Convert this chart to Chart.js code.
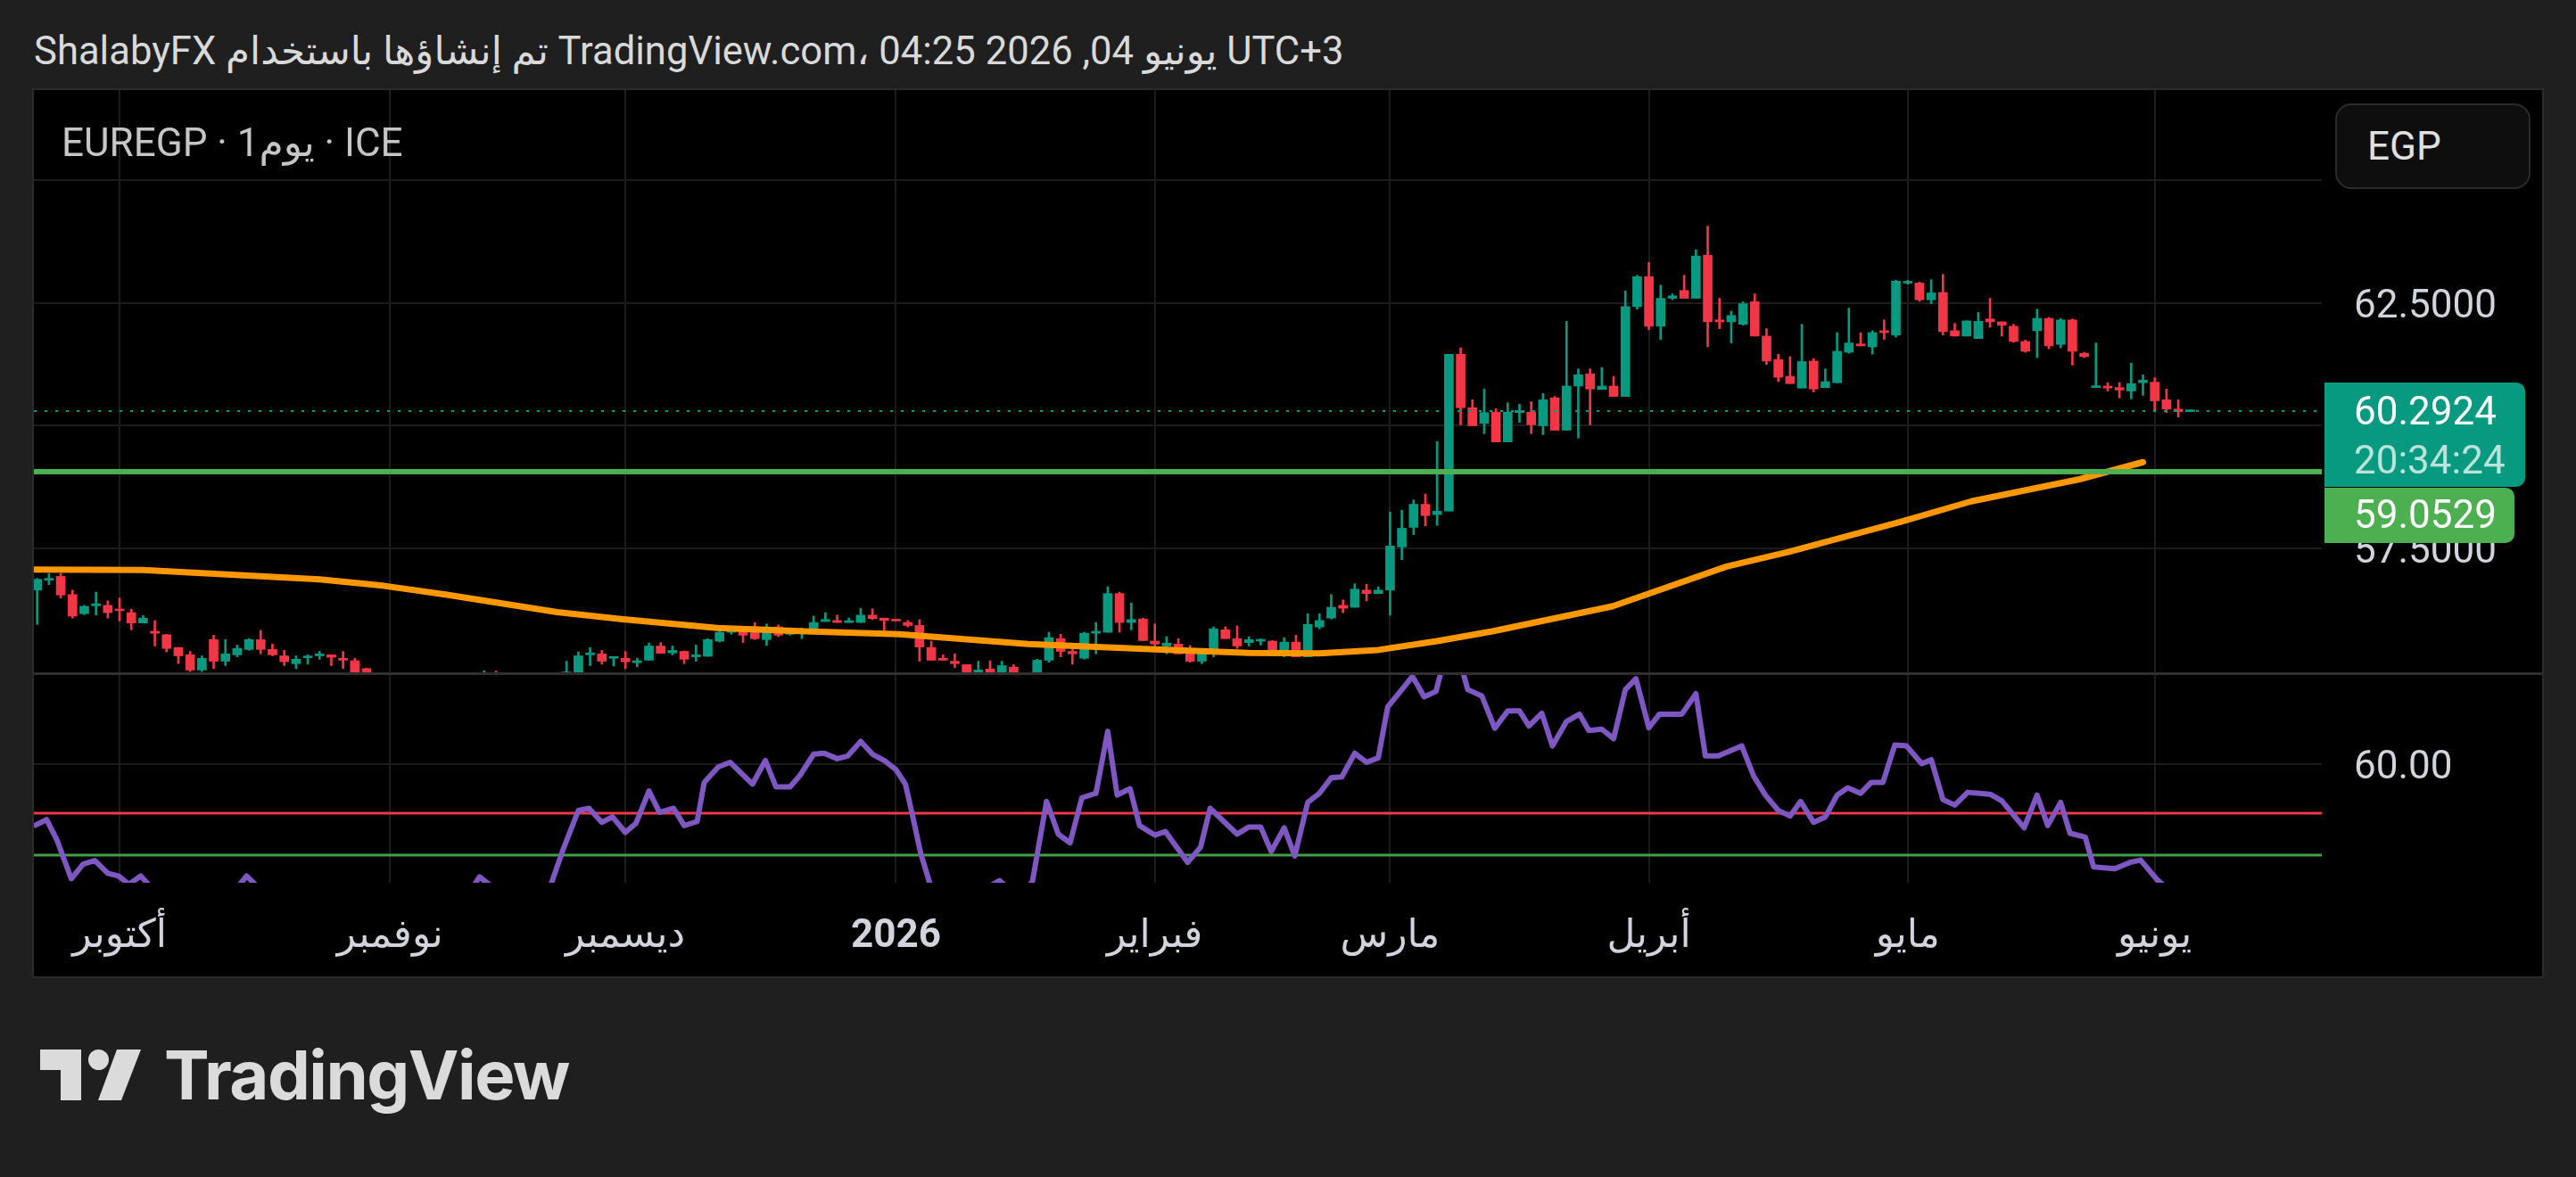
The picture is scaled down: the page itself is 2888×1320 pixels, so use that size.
<!DOCTYPE html>
<html><head><meta charset="utf-8">
<script src="https://cdn.jsdelivr.net/npm/chart.js@4.4.1/dist/chart.umd.min.js"></script>
<style>
html,body{margin:0;padding:0;background:#1f1f1f;width:2888px;height:1320px;overflow:hidden;font-family:Roboto,'DejaVu Sans',sans-serif;}
#title{position:absolute;left:38px;top:36px;font-size:43.6px;line-height:44px;color:#d9d9d9;white-space:nowrap;}
#panel{position:absolute;left:36px;top:99px;width:2812px;height:994px;background:#000;border:2px solid #2b2b2b;}
#price{position:absolute;left:38px;top:101px;}
#osc{position:absolute;left:38px;top:757px;}
#sep{position:absolute;left:38px;top:754px;width:2812px;height:3px;background:#2f2f2f;}
#sym{position:absolute;left:69px;top:138px;font-size:44px;line-height:44px;color:#c6c6c6;white-space:nowrap;}
#cur{position:absolute;left:2618px;top:116px;width:219px;height:96px;box-sizing:border-box;border:2px solid #2a2a2a;border-radius:18px;background:#0e0e0e;color:#e0e0e0;font-size:44px;display:flex;align-items:center;padding-left:34px;}
#logo{position:absolute;left:45px;top:1177px;}
#brand{position:absolute;left:184px;top:1167px;font-family:Inter,Lato,sans-serif;font-weight:700;font-size:76px;line-height:76px;color:#dbdbdb;letter-spacing:-1.5px;white-space:nowrap;}
</style></head>
<body>
<div id="title">ShalabyFX <span dir="rtl">تم إنشاؤها باستخدام</span> TradingView.com<span dir="ltr">،</span> <span dir="ltr">04:25 2026 ,04</span> <span dir="rtl">يونيو</span> UTC+3</div>
<div id="panel"></div>
<canvas id="price" width="2812" height="654"></canvas>
<canvas id="osc" width="2812" height="338"></canvas>
<div id="sep"></div>
<div id="sym">EUREGP · 1يوم · ICE</div>
<div id="cur">EGP</div>
<svg id="logo" width="114" height="57" viewBox="0 0 114 57"><path d="M0 0H46V57H23V23H0Z" fill="#dbdbdb"/><circle cx="65.5" cy="11.5" r="11.5" fill="#dbdbdb"/><path d="M86 0H113L91 57H65Z" fill="#dbdbdb"/></svg>
<div id="brand">TradingView</div>
<script>
// ---------- data ----------
const monthIdx = [7,30,50,73,95,115,137,159,180];
const monthLabels = ['أكتوبر','نوفمبر','ديسمبر','2026','فبراير','مارس','أبريل','مايو','يونيو'];
const priceTicks = [57.5,60,62.5,65];
const oscTicks = [60];
const supportLevel = 59.0529;
const oscUpper = 54.6;
const oscLower = 50;
const countdown = '20:34:24';

const open = [56.64,56.84,56.92,56.55,56.16,56.32,56.33,56.25,56.18,55.97,
55.80,55.73,55.47,55.32,55.01,55.63,55.19,55.32,55.43,55.63,
55.43,55.30,55.14,55.26,55.30,55.32,55.25,55.20,55.04,54.85,
54.68,54.52,54.60,54.42,54.30,54.38,54.52,54.70,54.62,54.85,
54.66,54.55,54.45,54.58,54.72,54.85,54.97,55.32,55.34,55.25,
55.25,55.16,55.21,55.50,55.36,55.39,55.28,55.29,55.60,55.78,
55.82,55.89,55.63,55.89,55.74,55.76,55.78,56.00,56.02,55.98,
55.98,56.13,56.07,56.04,55.98,55.92,55.47,55.25,55.19,55.12,
54.97,55.03,54.92,55.07,54.90,54.85,55.21,55.65,55.39,55.25,
55.76,55.78,56.57,55.98,56.05,55.60,55.50,55.54,55.38,55.19,
55.34,55.83,55.65,55.57,55.60,55.60,55.32,55.58,55.28,55.89,
56.07,56.33,56.29,56.64,56.57,56.64,57.52,57.92,58.39,58.18,
58.25,61.45,60.36,60.04,60.27,59.66,60.26,60.27,59.99,60.56,
59.90,60.80,61.05,60.73,60.80,60.59,62.42,63.03,62.02,62.59,
62.75,62.59,63.47,62.15,62.11,62.06,62.52,61.82,61.34,61.00,
60.76,61.31,60.77,60.87,61.49,61.66,61.60,61.93,61.84,62.90,
62.90,62.56,62.71,61.93,61.82,61.77,62.17,62.11,62.02,61.71,
61.93,62.18,61.65,62.15,61.47,60.77,60.80,60.77,60.70,60.87,
60.88,60.52,60.33,60.28];
const high = [56.88,56.98,56.98,56.64,56.33,56.60,56.42,56.48,56.25,56.12,
56.02,55.74,55.47,55.39,55.30,55.72,55.63,55.52,55.65,55.82,
55.54,55.41,55.30,55.32,55.39,55.32,55.39,55.25,55.05,54.90,
54.80,54.70,54.75,54.55,54.48,54.60,54.78,54.88,55.00,54.99,
54.80,54.70,54.62,54.80,54.90,55.19,55.38,55.47,55.41,55.28,
55.39,55.25,55.56,55.57,55.50,55.40,55.52,55.65,55.89,55.87,
55.87,55.98,55.95,55.93,55.87,55.87,56.11,56.18,56.13,56.07,
56.27,56.26,56.07,56.04,56.02,56.04,55.60,55.32,55.34,55.12,
55.19,55.20,55.19,55.12,54.93,55.23,55.78,55.74,55.43,55.78,
55.98,56.71,56.60,56.38,56.07,55.95,55.69,55.65,55.51,55.43,
55.89,55.89,55.91,55.69,55.65,55.61,55.67,55.72,56.16,56.16,
56.55,56.44,56.77,56.76,56.71,58.23,58.27,58.48,58.60,59.67,
61.45,61.58,60.52,60.74,60.34,60.46,60.43,60.48,60.65,60.59,
62.12,61.15,61.15,61.18,61.00,62.74,63.06,63.32,62.86,62.68,
63.06,63.58,64.06,62.59,62.33,62.52,62.68,61.97,61.45,61.40,
62.06,61.36,61.15,61.89,62.39,61.89,61.93,62.15,62.96,62.96,
62.92,62.97,63.08,62.08,62.13,62.30,62.59,62.11,62.06,61.74,
62.37,62.20,62.18,62.17,61.49,61.68,60.87,60.87,61.27,61.03,
60.97,60.74,60.52,60.31];
const low = [55.94,56.75,56.48,56.07,56.14,56.13,56.07,56.01,55.83,55.97,
55.50,55.38,55.14,54.98,54.98,55.04,55.10,55.28,55.41,55.34,
55.30,55.10,55.04,55.13,55.23,55.10,55.04,54.88,54.70,54.60,
54.45,54.40,54.35,54.20,54.15,54.30,54.45,54.55,54.58,54.60,
54.48,54.35,54.32,54.50,54.65,54.80,54.92,55.10,55.13,55.09,
55.04,55.08,55.21,55.35,55.32,55.14,55.19,55.29,55.58,55.74,
55.57,55.63,55.51,55.69,55.72,55.65,55.78,56.00,55.98,55.98,
55.98,56.04,55.80,56.01,55.89,55.19,55.21,55.21,55.06,54.80,
54.90,54.90,54.85,54.90,54.70,54.82,55.17,55.28,55.13,55.23,
55.34,55.78,55.78,55.83,55.61,55.47,55.34,55.34,55.17,55.14,
55.28,55.65,55.45,55.50,55.52,55.34,55.28,55.28,55.28,55.85,
56.05,56.18,56.29,56.42,56.57,56.13,57.26,57.77,57.95,57.96,
58.25,60.01,59.99,59.83,59.66,59.66,60.06,59.83,59.81,59.90,
59.90,59.74,60.01,60.73,60.59,60.59,62.37,61.95,61.75,62.56,
62.59,62.59,61.60,61.97,61.68,62.04,61.82,61.24,60.89,60.85,
60.76,60.68,60.77,60.86,61.47,61.62,61.45,61.75,61.80,62.88,
62.53,62.48,61.84,61.82,61.82,61.77,62.00,61.82,61.69,61.49,
61.38,61.56,61.58,61.23,61.38,60.77,60.70,60.56,60.54,60.61,
60.30,60.26,60.17,60.28];
const close = [56.86,56.88,56.54,56.11,56.31,56.36,56.18,56.22,55.97,56.07,
55.76,55.45,55.30,55.01,55.25,55.19,55.34,55.45,55.63,55.43,
55.32,55.18,55.23,55.29,55.34,55.27,55.21,54.95,54.85,54.68,
54.52,54.60,54.42,54.30,54.38,54.52,54.70,54.62,54.85,54.66,
54.55,54.45,54.58,54.72,54.85,54.97,55.30,55.36,55.19,55.28,
55.18,55.20,55.50,55.35,55.41,55.23,55.32,55.63,55.78,55.82,
55.72,55.65,55.89,55.72,55.78,55.80,55.98,56.04,55.98,56.01,
56.13,56.06,56.02,56.01,55.92,55.48,55.21,55.21,55.14,54.90,
55.01,54.97,55.10,54.96,54.85,55.21,55.67,55.39,55.34,55.76,
55.80,56.57,55.98,56.04,55.61,55.54,55.56,55.34,55.19,55.38,
55.85,55.65,55.50,55.63,55.63,55.34,55.58,55.28,55.94,56.02,
56.29,56.27,56.66,56.57,56.64,57.54,57.90,58.39,58.16,58.25,
61.45,60.36,59.99,60.26,59.66,60.27,60.30,60.01,60.52,59.90,
60.80,61.03,60.74,60.80,60.59,62.42,63.03,62.02,62.59,62.64,
62.59,63.45,62.11,62.11,62.24,62.48,61.82,61.31,60.98,60.85,
61.30,60.74,60.89,61.51,61.68,61.62,61.89,61.89,62.94,62.92,
62.56,62.70,61.91,61.82,62.13,62.12,62.11,62.04,61.71,61.51,
62.18,61.62,62.15,61.51,61.40,60.80,60.76,60.72,60.85,60.92,
60.50,60.33,60.28,60.2924];

const maX = [-0.3,9,24,29.4,34.7,44.2,49.6,57.8,65.2,73.3,84.2,95,103,109,114,119,123.7,133.9,143.6,148.9,158.5,164.4,173.6,179];
const maY = [57.06,57.05,56.86,56.73,56.55,56.19,56.05,55.87,55.80,55.74,55.54,55.43,55.36,55.35,55.42,55.60,55.80,56.31,57.12,57.42,58.04,58.45,58.90,59.25];

const oscX = [-0.3,0.8,1.7,2.9,3.9,4.9,6.0,6.9,7.8,8.8,9.8,11,12,13,14,15,16,17,17.8,19,20,21,22,23,24,25,26,27,28,29,30,31,32,33,34,35,36,37,37.6,38.6,39.6,40.6,41.6,42.6,43.6,44.7,46.0,46.9,48.0,48.9,50.0,50.9,52.0,52.9,54.1,55.0,56.1,56.7,57.9,58.9,60.8,61.9,62.8,64.0,64.8,66.0,66.9,68.0,68.9,70.0,71.0,72.0,73.0,73.8,74.4,75.1,75.9,77,78,79,80,81,81.8,82.8,83.8,84.6,85.8,86.8,87.8,88.8,90.0,91.0,91.8,92.9,93.7,95.0,95.9,97.8,98.9,99.7,102.0,103.0,104.0,104.9,106.0,106.9,108.0,109.0,110.0,110.9,112.0,113.0,114.0,114.8,116.0,116.9,117.9,118.9,119.8,120.8,121.6,122.8,123.9,125.0,126.0,126.8,127.9,128.8,130.0,131.1,131.9,133.0,134.0,135.0,135.9,137.0,137.9,139.8,141.0,141.8,142.9,144.9,145.9,146.9,148.0,149.0,149.9,151.0,152.0,153.0,153.9,155.0,155.9,156.9,157.9,158.9,160.2,161.0,162.0,163.0,164.1,166.0,167.0,168.9,170.0,170.9,172.0,172.8,174.1,174.8,176.6,177.9,178.8,180.2,181,182,183];
const oscY = [53.2,53.9,51.6,47.4,49.0,49.4,48.0,47.7,46.8,47.7,46.3,44.5,43.2,42.0,42.8,44.0,45.2,46.4,47.7,46.2,45.0,44.1,43.5,43.8,43.0,42.2,41.5,40.3,39.5,38.8,39.2,38.6,38.1,38.9,40.5,42.6,44.8,46.4,47.6,46.6,45.8,45.0,44.6,45.3,46.5,50.6,54.9,55.15,53.6,54.2,52.5,53.5,57.05,54.7,55.15,53.25,53.7,58.0,59.7,60.2,57.8,60.4,57.5,57.5,58.7,61.1,61.2,60.6,60.9,62.5,61.1,60.4,59.4,57.8,54.4,50.2,46.8,44.5,43.2,44.0,45.5,46.6,47.2,46.0,45.8,47.1,55.9,52.3,51.35,56.3,56.8,63.6,56.6,57.3,53.25,52.2,52.6,49.2,50.9,55.15,52.3,53.1,53.1,50.4,53.0,49.9,55.8,56.8,58.5,58.6,61.2,60.2,60.7,66.3,68.2,69.65,67.4,68.0,72.5,72.0,68.2,67.5,63.95,65.85,65.85,64.2,65.6,62.0,64.7,65.5,63.7,63.85,62.8,68.2,69.4,64.0,65.5,65.5,67.75,60.9,60.9,62.0,58.7,56.6,54.9,54.3,55.9,53.6,54.2,56.6,57.4,56.8,58.0,58.0,62.1,62.0,60.05,60.5,56.1,55.5,56.9,56.7,55.96,53.0,56.6,53.25,55.8,52.4,51.97,48.7,48.5,49.2,49.45,47.3,46.4,45.7,45.3];

// ---------- chart ----------
const FAM = "Roboto, 'DejaVu Sans', sans-serif";
Chart.defaults.font.family = FAM;
const UP = '#089981', DOWN = '#f23645', GRID = '#1c1c1c', TXT = '#d1d4dc';
const X_MIN = -0.28, X_MAX = 194.2;
const lastClose = close[close.length - 1];
const colorOf = i => close[i] >= open[i] ? UP : DOWN;

function xAxis(show) {
  return {
    type: 'linear', min: X_MIN, max: X_MAX, offset: false,
    afterBuildTicks: s => { s.ticks = monthIdx.map(v => ({ value: v })); },
    grid: { color: GRID, lineWidth: 2, drawTicks: false, offset: false },
    border: { display: false },
    ticks: {
      display: show, autoSkip: false, maxRotation: 0, padding: 35, color: TXT,
      font: c => ({ family: FAM, size: 44, weight: (c.tick && c.tick.value === 73) ? 'bold' : 'normal' }),
      callback: v => { const k = monthIdx.indexOf(v); return k >= 0 ? monthLabels[k] : ''; }
    },
    afterFit: s => { s.height = show ? 105 : 0; s.paddingLeft = 0; s.paddingRight = 0; }
  };
}
function yAxis(min, max, ticks, fmt) {
  return {
    position: 'right', min, max,
    afterBuildTicks: s => { s.ticks = ticks.map(v => ({ value: v })); },
    grid: { color: GRID, lineWidth: 2, drawTicks: false },
    border: { display: false },
    ticks: { color: TXT, padding: 36, crossAlign: 'near', labelOffset: 5, font: { size: 44, family: FAM }, callback: fmt },
    afterFit: s => { s.width = 247; s.paddingTop = 0; s.paddingBottom = 0; }
  };
}
function rrRight(ctx, x, y, w, h, r) {
  ctx.beginPath();
  ctx.moveTo(x, y); ctx.lineTo(x + w - r, y); ctx.arcTo(x + w, y, x + w, y + r, r);
  ctx.lineTo(x + w, y + h - r); ctx.arcTo(x + w, y + h, x + w - r, y + h, r);
  ctx.lineTo(x, y + h); ctx.closePath();
}
const labelPlugin = {
  id: 'lastLabels',
  afterDraw(chart) {
    const { ctx, chartArea, scales: { y } } = chart;
    const yc = y.getPixelForValue(lastClose);
    const x0 = chartArea.right + 3, tx = chartArea.right + 36;
    ctx.save();
    ctx.fillStyle = UP; rrRight(ctx, x0, yc - 32, 225, 117, 10); ctx.fill();
    ctx.font = '44px ' + FAM; ctx.textAlign = 'left'; ctx.textBaseline = 'middle';
    ctx.fillStyle = '#ffffff'; ctx.fillText(lastClose.toFixed(4), tx, yc + 4);
    ctx.fillStyle = 'rgba(255,255,255,0.72)'; ctx.fillText(countdown, tx, yc + 59);
    const gTop = yc - 32 + 118;
    ctx.fillStyle = '#4caf50'; rrRight(ctx, x0, gTop, 213, 62, 10); ctx.fill();
    ctx.fillStyle = '#ffffff'; ctx.fillText(supportLevel.toFixed(4), tx, gTop + 34);
    ctx.restore();
  }
};

new Chart(document.getElementById('price'), {
  type: 'bar',
  data: { datasets: [
    { type: 'line', data: [{ x: X_MIN, y: lastClose }, { x: X_MAX, y: lastClose }], borderColor: UP, borderWidth: 2, borderDash: [3, 9], pointRadius: 0, order: -1 },
    { type: 'line', data: [{ x: X_MIN, y: supportLevel }, { x: X_MAX, y: supportLevel }], borderColor: '#4caf50', borderWidth: 6, pointRadius: 0, order: 0 },
    { type: 'line', data: maX.map((x, k) => ({ x, y: maY[k] })), borderColor: '#ff9800', borderWidth: 7, pointRadius: 0, borderCapStyle: 'round', borderJoinStyle: 'round', order: 1 },
    { type: 'bar', data: open.map((o, i) => ({ x: i, y: [o, close[i]] })), backgroundColor: c => colorOf(c.dataIndex), barThickness: 10, minBarLength: 2, grouped: false, order: 2 },
    { type: 'bar', data: open.map((o, i) => ({ x: i, y: [low[i], high[i]] })), backgroundColor: c => colorOf(c.dataIndex), barThickness: 2, minBarLength: 1, grouped: false, order: 3 }
  ]},
  options: {
    responsive: false, animation: false, events: [],
    layout: { padding: 0, autoPadding: false },
    plugins: { legend: { display: false }, tooltip: { enabled: false } },
    scales: {
      x: xAxis(false),
      y: yAxis(60 - (755 - 477) / 55, 60 + (477 - 101) / 55, priceTicks, v => v === 65 ? '' : v.toFixed(4))
    }
  },
  plugins: [labelPlugin]
});

new Chart(document.getElementById('osc'), {
  type: 'line',
  data: { datasets: [
    { data: oscX.map((x, k) => ({ x, y: oscY[k] })), borderColor: '#7e57c2', borderWidth: 6, pointRadius: 0, borderJoinStyle: 'round', order: 0 },
    { data: [{ x: X_MIN, y: oscUpper }, { x: X_MAX, y: oscUpper }], borderColor: '#f23645', borderWidth: 3, pointRadius: 0, order: 1 },
    { data: [{ x: X_MIN, y: oscLower }, { x: X_MAX, y: oscLower }], borderColor: '#43a047', borderWidth: 3, pointRadius: 0, order: 2 }
  ]},
  options: {
    responsive: false, animation: false, events: [],
    layout: { padding: 0, autoPadding: false },
    plugins: { legend: { display: false }, tooltip: { enabled: false } },
    scales: {
      x: xAxis(true),
      y: yAxis(60 - 133 / 10.2, 60 + 100 / 10.2, oscTicks, v => v.toFixed(2))
    }
  }
});
</script>
</body></html>
